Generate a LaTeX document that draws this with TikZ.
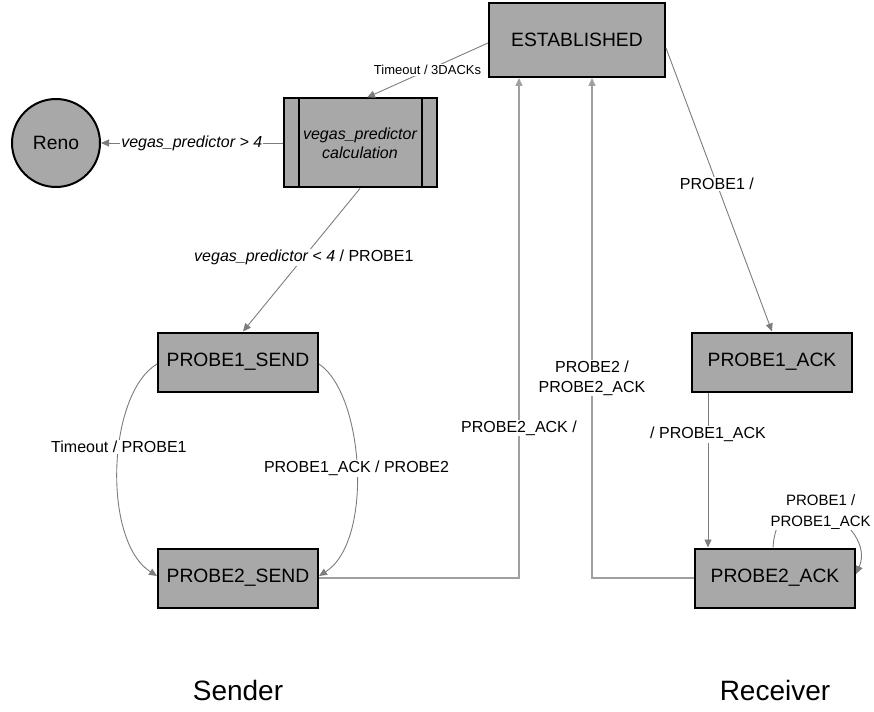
\documentclass[tikz,border=0pt]{standalone}
\usepackage{fontspec}
\setmainfont{Liberation Sans}
\usetikzlibrary{positioning,arrows.meta}
\definecolor{statefill}{HTML}{A8A8A8}
\definecolor{flowgrey}{HTML}{7C7C7C}
\definecolor{returngrey}{HTML}{A0A0A0}

\begin{document}
\begin{tikzpicture}[
  x=1pt, y=-1pt,
  state/.style = {rectangle, fill=statefill, draw=black, line width=2pt, minimum width=160pt, minimum height=59pt, inner sep=0pt, font=\fontsize{19.3}{21}\selectfont},
  proc/.style = {state, minimum width=153pt, minimum height=89pt, align=center, font=\itshape\fontsize{16}{19}\selectfont,
    path picture={
      \draw[line width=2pt] ([xshift=15pt]path picture bounding box.north west) -- ([xshift=15pt]path picture bounding box.south west);
      \draw[line width=2pt] ([xshift=-15pt]path picture bounding box.north east) -- ([xshift=-15pt]path picture bounding box.south east);
    }},
  side/.style = {font=\fontsize{28}{30}\selectfont},
  flow/.style = {-{Triangle[length=8pt,width=7pt]}, draw=flowgrey, line width=.9pt},
  back/.style = {flow, draw=returngrey, line width=1.4pt},
  flow_lab/.style = {font=\fontsize{16}{20}\selectfont, fill=white, inner sep=1pt, align=center}
  ]

  \useasboundingbox (0,0) rectangle (874,711);

  \node[state, minimum width=176pt, minimum height=74pt] (est) at (577,40) {ESTABLISHED};
  \node[proc] (calc) at (360,143) {vegas\_predictor\\calculation};
  \node[state, circle, minimum size=88pt] (reno) at (56,143) {Reno};
  \node[state] (p1send) at (238,362) {PROBE1\_SEND};
  \node[state] (p2send) at (238,578) {PROBE2\_SEND};
  \node[state] (p1ack) at (772,362) {PROBE1\_ACK};
  \node[state] (p2ack) at (775,578) {PROBE2\_ACK};
  \node[side] (sender) at (238,690) {Sender};
  \node[side] (receiver) at (775,690) {Receiver};

  % sender side
  \draw[flow] ([yshift=-3pt]est.west) -- node[flow_lab, font=\fontsize{13}{15}\selectfont] {Timeout / 3DACKs} ([xshift=7pt]calc.north);
  \draw[flow] (calc) -- node[flow_lab, font=\itshape\fontsize{16}{18}\selectfont] {vegas\_predictor > 4} (reno);
  \draw[flow] (calc.south) -- node[flow_lab, pos=.48] {\textit{vegas\_predictor < 4} / PROBE1} ([xshift=5pt]p1send.north);
  \draw[flow] ([yshift=-2pt]p1send.west) .. controls +(-50,30) and +(-55,-35) .. node[flow_lab, pos=.42] {Timeout / PROBE1} ([yshift=2pt]p2send.west);
  \draw[flow] ([yshift=-2pt]p1send.east) .. controls +(45,30) and +(55,-35) .. node[flow_lab, pos=.5] {PROBE1\_ACK / PROBE2} ([yshift=2pt]p2send.east);
  \draw[back] (p2send.east) -| node[flow_lab, pos=.65] {PROBE2\_ACK /} ([xshift=-58pt]est.south);

  % receiver side
  \draw[flow] ([yshift=-8pt]est.east) -- node[flow_lab, pos=.48] {PROBE1 /} (p1ack.north);
  \coordinate (ackdrop) at ([xshift=-64pt]p1ack.south);
  \draw[flow] (ackdrop) -- node[flow_lab, pos=.27] {/ PROBE1\_ACK} (ackdrop |- p2ack.north);
  \draw[flow] ([xshift=-2pt]p2ack.north) .. controls +(5,-80) and +(22,-50) .. node[flow_lab, font=\fontsize{15}{21}\selectfont, xshift=-4pt] {PROBE1 /\\PROBE1\_ACK} ([yshift=4pt]p2ack.east);
  \draw[back] (p2ack.west) -| node[flow_lab, pos=.70] {PROBE2 /\\PROBE2\_ACK} ([xshift=15pt]est.south);

\end{tikzpicture}
\end{document}
